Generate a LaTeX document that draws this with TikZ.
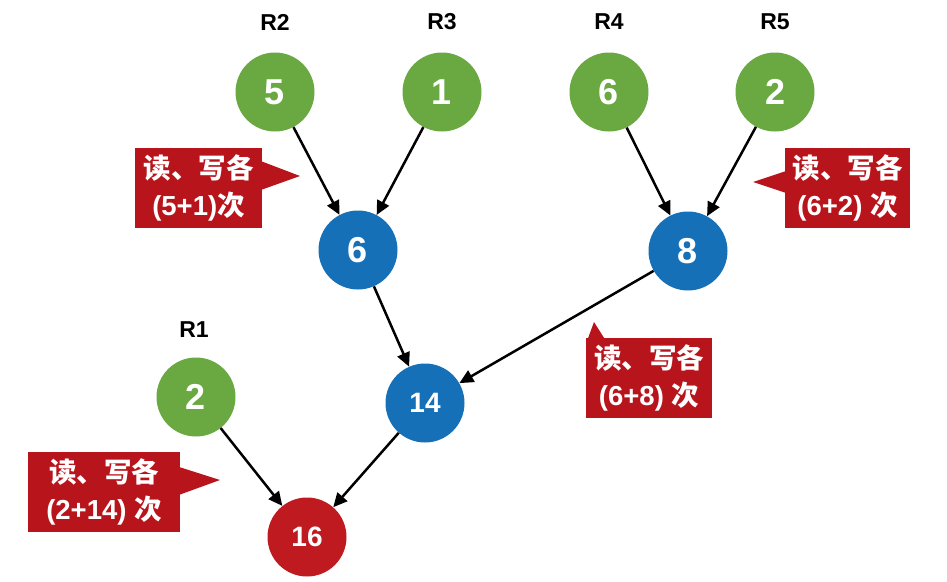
\documentclass[tikz,border=0pt]{standalone}
\usepackage{fontspec}
\setmainfont{Liberation Sans}
\newfontfamily\cjk{Noto Sans CJK SC}
\usetikzlibrary{arrows.meta}
\definecolor{leafgreen}{HTML}{6AA842}
\definecolor{mergeblue}{HTML}{1570B8}
\definecolor{rootred}{HTML}{BF1A1F}
\definecolor{notered}{HTML}{B8141C}

\tikzset{
  run/.style={circle,minimum size=79pt,inner sep=0pt,text=white,
    font=\bfseries\fontsize{36}{36}\selectfont},
  leaf/.style={run,fill=leafgreen},
  merged/.style={run,fill=mergeblue},
  final/.style={run,fill=rootred},
  runname/.style={font=\bfseries\fontsize{23}{23}\selectfont},
  flow/.style={-{Triangle[length=14pt,width=13pt]},line width=2.5pt},
  note/.style={fill=notered,text=white,align=center,inner sep=0pt,
    minimum width=127pt,minimum height=80pt,
    font=\bfseries\fontsize{27.5}{37}\selectfont}
}
\newcommand{\rw}{{\cjk 读、写各}}
\newcommand{\ci}{{\cjk 次}}

\begin{document}
\begin{tikzpicture}[x=1pt,y=-1pt]
  \useasboundingbox (0,0) rectangle (947,581);

  % runs to be merged
  \node[leaf] (r2) at (275,92) {5};
  \node[leaf] (r3) at (442,92) {1};
  \node[leaf] (r4) at (609,92) {6};
  \node[leaf] (r5) at (775,92) {2};
  \node[leaf] (r1) at (196,397) {2};
  \node[runname] (l2) at (275,22) {R2};
  \node[runname] (l3) at (442,22) {R3};
  \node[runname] (l4) at (609,22) {R4};
  \node[runname] (l5) at (775,22) {R5};
  \node[runname] (l1) at (194,330) {R1};

  % merged runs
  \node[merged] (m6) at (358,250) {6};
  \node[merged] (m8) at (688,251) {8};
  \node[merged,font=\bfseries\fontsize{28}{28}\selectfont] (m14) at (425,403) {14};
  \node[final,font=\bfseries\fontsize{28}{28}\selectfont] (m16) at (307,537) {16};

  \draw[flow] (r2) -- (m6);
  \draw[flow] (r3) -- (m6);
  \draw[flow] (r4) -- (m8);
  \draw[flow] (r5) -- (m8);
  \draw[flow] (m6) -- (m14);
  \draw[flow] (m8) -- (m14);
  \draw[flow] (r1) -- (m16);
  \draw[flow] (m14) -- (m16);

  % cost notes
  \fill[notered] (258,160) -- (300,176) -- (258,191) -- cycle;
  \node[note] (c1) at (198.5,187.5) {\rw\\(5+1)\ci};
  \fill[notered] (789,170) -- (753,182) -- (789,194) -- cycle;
  \node[note,minimum width=125pt] (c2) at (847.5,187.5) {\rw\\(6+2) \ci};
  \fill[notered] (587,341) -- (594,322) -- (606,341) -- cycle;
  \node[note,minimum width=126pt] (c3) at (649,377.5) {\rw\\(6+8) \ci};
  \fill[notered] (176,466) -- (220,480) -- (176,496) -- cycle;
  \node[note,minimum width=152pt] (c4) at (104,492) {\rw\\(2+14) \ci};
\end{tikzpicture}
\end{document}
